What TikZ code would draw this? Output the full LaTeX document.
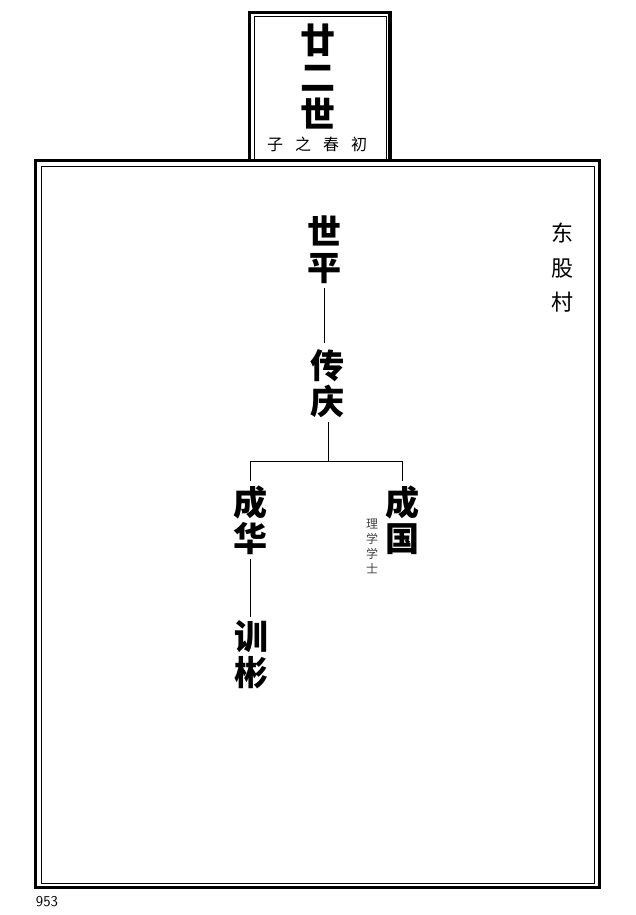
\documentclass[tikz,border=0pt]{standalone}
\usepackage{fontspec}
\newfontfamily\cjk{Noto Sans CJK SC}
\begin{document}
\begin{tikzpicture}[x=1pt,y=-1pt,
  thickframe/.style={line width=3.5pt},
  thinframe/.style={line width=1pt},
  link/.style={line width=1pt},
  person/.style={font=\cjk\bfseries\fontsize{34}{36}\selectfont, align=center, inner xsep=0pt, inner ysep=4pt},
  titletext/.style={font=\cjk\bfseries\fontsize{35}{37}\selectfont, align=center, inner sep=0pt},
  subtext/.style={font=\cjk\fontsize{16}{16}\selectfont, inner sep=0pt},
  villagetext/.style={font=\cjk\fontsize{22}{34.5}\selectfont, align=center, inner sep=0pt},
  degreetext/.style={font=\cjk\fontsize{12}{15}\selectfont, align=center, inner sep=0pt, text=black!75},
  pagetext/.style={font=\sffamily\fontsize{15}{15}\selectfont, inner sep=0pt}
  ]
\useasboundingbox (0,0) rectangle (636,915);
% frames
\draw[thickframe] (35.5,160.5) rectangle (599.5,887.5);
\draw[thinframe] (41.5,166) rectangle (594,883);
\draw[thickframe] (249.5,160.5) -- (249.5,12.5) -- (390,12.5) -- (390,160.5);
\draw[thinframe] (254,159) -- (254,17) -- (386,17) -- (386,159);
% title
\node[titletext] (title) at (318,77) {廿\\二\\世};
\node[subtext] (sub) at (317,144) {子\hskip12pt 之\hskip12pt 春\hskip12pt 初};
% village
\node[villagetext] (village) at (562,268) {东\\股\\村};
% people
\node[person] (n1) at (324,250) {世\\平};
\node[person] (n2) at (327,384) {传\\庆};
\node[person] (n3) at (250,520) {成\\华};
\node[person] (n4) at (402,520) {成\\国};
\node[person] (n5) at (251,655) {训\\彬};
\node[degreetext] (deg) at (372,546) {理\\学\\学\\士};
% connectors
\coordinate (j) at (328,461);
\draw[link, shorten >=3pt] (n1.south) -- (n1.south |- n2.north);
\draw[link] (n2.south -| j) -- (j);
\draw[link] (n3.north) -- (n3.north |- j) -- (n4.north |- j) -- (n4.north);
\draw[link] (n3.south) -- (n3.south |- n5.north);
% page number
\node[pagetext] (page) at (47,902) {953};
\end{tikzpicture}
\end{document}
